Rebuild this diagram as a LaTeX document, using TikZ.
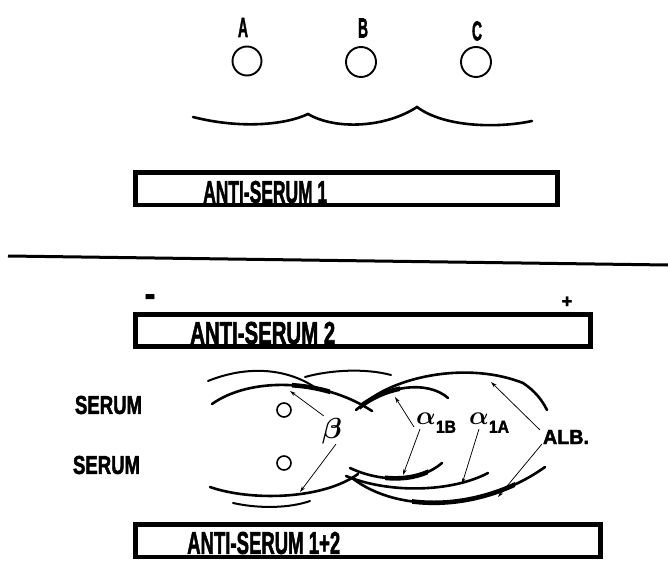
\documentclass[tikz,border=0pt]{standalone}
\usepackage{fontspec}
\usepackage{graphicx}
\usetikzlibrary{arrows.meta}
\newfontfamily\heavysans{Liberation Sans}[BoldFeatures={FakeBold=2.2}]
% bold lettering set to a given width #1 and cap height #2
\newcommand\fitted[3]{\resizebox{#1}{#2}{\heavysans\bfseries #3}}
\newcommand\plain[2]{{\fontsize{#1}{#1}\selectfont\heavysans\bfseries #2}}
\tikzset{
  gelbox/.style={draw, line width=4.4pt, inner sep=0pt, anchor=north west},
  lbl/.style={inner sep=0pt},
  well/.style={draw, circle, line width=1.9pt, inner sep=0pt},
  arcline/.style={line width=2.6pt, line cap=round},
  heavyarc/.style={line width=4.6pt, line cap=round},
  thinarc/.style={line width=2pt, line cap=round},
  ptr/.style={line width=0.75pt, -{Stealth[length=6pt,width=3.6pt]}},
}
\begin{document}
\begin{tikzpicture}[x=1pt, y=-1pt]
\useasboundingbox (0,0) rectangle (668,561);

% ---------- upper panel: three wells over one trough ----------
\node[lbl] (la) at (243,27.5) {\fitted{10pt}{19pt}{A}};
\node[lbl] (lb) at (363,28) {\fitted{10pt}{19pt}{B}};
\node[lbl] (lc) at (477,31) {\fitted{10pt}{19pt}{C}};
\node[well, minimum size=29pt] (wa) at (247,61) {};
\node[well, minimum size=30pt] (wb) at (361,62) {};
\node[well, minimum size=30pt] (wc) at (476,62) {};

% precipitin line joining the three sera
\draw[arcline] (193,117) .. controls (240,129) and (285,125) .. (308,114)
               .. controls (335,130) and (385,128) .. (417,107)
               .. controls (445,128) and (500,128) .. (532,121);

\node[gelbox, minimum width=422pt, minimum height=32.5pt] (t1) at (133.2,170.2) {};
\node[lbl, anchor=west] (t1l) at (203,192) {\fitted{124pt}{22pt}{ANTI-SERUM 1}};

% divider
\draw[line width=3pt] (8,256) -- (668,265);

% ---------- lower panel ----------
\node[lbl] (minus) at (150,301) {\scalebox{1}[2.4]{\plain{17}{–}}};
\node[lbl] (plus) at (567,302) {\fitted{11pt}{11pt}{+}};

\node[gelbox, minimum width=455pt, minimum height=32pt] (t2) at (133.2,312.2) {};
\node[lbl, anchor=west] (t2l) at (190,333) {\fitted{145pt}{22pt}{ANTI-SERUM 2}};

\node[gelbox, minimum width=465pt, minimum height=32.5pt] (t3) at (133.2,522.2) {};
\node[lbl, anchor=west] (t3l) at (187,543) {\fitted{153pt}{22pt}{ANTI-SERUM 1+2}};

\node[lbl] (s1) at (108.5,405) {\fitted{67pt}{18pt}{SERUM}};
\node[lbl] (s2) at (106.5,465) {\fitted{67pt}{18pt}{SERUM}};
\node[well, minimum size=14pt, line width=1.6pt] (w1) at (284,410) {};
\node[well, minimum size=14pt, line width=1.6pt] (w2) at (284,463) {};

% beta arcs
\draw[thinarc] (208,381) .. controls (245,366) and (285,367) .. (316,388);
\draw[arcline] (212,404) .. controls (250,377) and (322,378) .. (372,411);
\begin{scope}
  \clip (292,0) rectangle (330,561);
  \draw[heavyarc] (212,404) .. controls (250,377) and (322,378) .. (372,411);
\end{scope}
\draw[thinarc] (305,377) .. controls (330,370) and (365,368) .. (391,375);
\draw[arcline] (210,487) .. controls (250,501) and (322,500) .. (358,474);
\draw[thinarc] (233,503) .. controls (260,509) and (290,508) .. (310,501);

% alpha 1B arcs
\draw[arcline] (356,410) .. controls (385,385) and (428,380) .. (448,398);
\begin{scope}
  \clip (360,0) rectangle (400,561);
  \draw[heavyarc] (356,410) .. controls (385,385) and (428,380) .. (448,398);
\end{scope}
\draw[arcline] (350,468) .. controls (382,483) and (420,482) .. (442,463);
\begin{scope}
  \clip (385,0) rectangle (428,561);
  \draw[heavyarc] (350,468) .. controls (382,483) and (420,482) .. (442,463);
\end{scope}

% alpha 1A arc
\draw[arcline] (346,476) .. controls (390,494) and (452,492) .. (488,473);

% albumin arcs
\draw[arcline] (366,402) .. controls (400,375) and (470,362) .. (523,383)
               .. controls (535,391) and (542,400) .. (547,410);
\draw[arcline] (352,478) .. controls (400,515) and (485,510) .. (545,467);
\begin{scope}
  \clip (412,0) rectangle (515,561);
  \draw[heavyarc] (352,478) .. controls (400,515) and (485,510) .. (545,467);
\end{scope}

% labels
\node[lbl] (beta) at (332,431) {\scalebox{2.9}{\boldmath$\beta$}};
\node[lbl, anchor=west] (a1b) at (416,423) {\scalebox{2.6}{\boldmath$\alpha$}\raisebox{-8pt}{\fitted{20pt}{12pt}{1B}}};
\node[lbl, anchor=west] (a1a) at (469,423) {\scalebox{2.6}{\boldmath$\alpha$}\raisebox{-8pt}{\fitted{20pt}{12pt}{1A}}};
\node[lbl] (alb) at (566,437) {\fitted{46pt}{14pt}{ALB.}};

% arc positions indicated by the labels
\coordinate (pbu) at (290,391);
\coordinate (pbd) at (300,492);
\coordinate (pbbu) at (395,397);
\coordinate (pbbd) at (403,475);
\coordinate (paad) at (462,484);
\coordinate (palu) at (491,382);
\coordinate (pald) at (498,497);

\draw[ptr] ([xshift=2pt,yshift=2pt]beta.north west) -- (pbu);
\draw[ptr] ([xshift=4pt]beta.south) -- (pbd);
\draw[ptr] ([xshift=-2pt,yshift=-4pt]a1b.west) -- (pbbu);
\draw[ptr] ([xshift=4pt,yshift=4pt]a1b.south west) -- (pbbd);
\draw[ptr] ([xshift=10pt,yshift=4pt]a1a.south west) -- (paad);
\draw[ptr] ([xshift=-3pt]alb.north west) -- (palu);
\draw[ptr] ([xshift=-1pt]alb.south west) -- (pald);
\end{tikzpicture}
\end{document}
